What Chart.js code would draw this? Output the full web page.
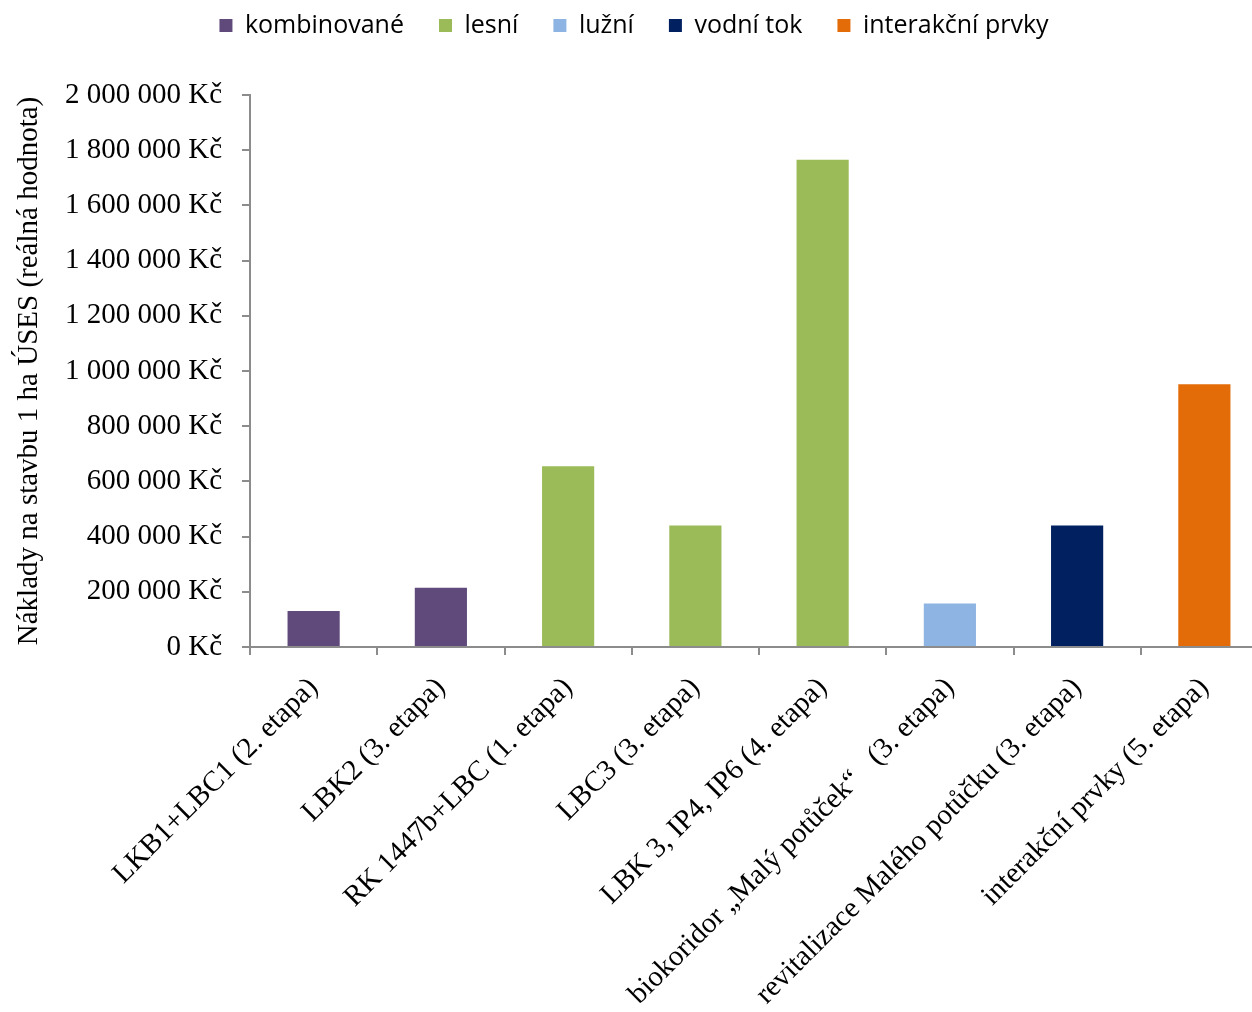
<!DOCTYPE html>
<html>
<head>
<meta charset="utf-8">
<script src="https://cdn.jsdelivr.net/npm/chart.js@4/dist/chart.umd.min.js"></script>
<style>
  html, body { margin: 0; padding: 0; background: #fff; overflow: hidden; }
  #wrap { width: 1270px; height: 1012px; }
</style>
</head>
<body>
<div id="wrap"><canvas id="js_costChart"></canvas></div>
<script>
/*  eslint-disable no-undef */
const categories = [
  'LKB1+LBC1 (2. etapa)',
  'LBK2 (3. etapa)',
  'RK 1447b+LBC (1. etapa)',
  'LBC3 (3. etapa)',
  'LBK 3, IP4, IP6 (4. etapa)',
  'biokoridor \u201eMalý potůček\u201c   (3. etapa)',
  'revitalizace Malého potůčku (3. etapa)',
  'interakční prvky (5. etapa)',
];

const costs = [130000, 215000, 655000, 440000, 1765000, 158000, 440000, 952000];

// which group each bar belongs to (index into groupNames)
const barGroup = [0, 0, 1, 1, 1, 2, 3, 4];

const groupNames = ['kombinované', 'lesní', 'lužní', 'vodní tok', 'interakční prvky'];
const groupColors = ['#604a7b', '#9bbb59', '#8eb4e3', '#002060', '#e36c09'];

const yTicks = [0, 200000, 400000, 600000, 800000, 1000000, 1200000, 1400000, 1600000, 1800000, 2000000];

const axisColor = '#8c8c8c';
const serif = "'Liberation Serif', 'Times New Roman', serif";

const formatKc = (v) => `${String(v).replace(/\B(?=(\d{3})+(?!\d))/g, ' ')} Kč`;

// extra room under the legend
const legendSpacer = {
  id: 'legendSpacer',
  beforeInit(chart) {
    const originalFit = chart.legend.fit;
    chart.legend.fit = function fit() {
      originalFit.bind(chart.legend)();
      this.height += 47;
    };
  },
};

document.addEventListener('DOMContentLoaded', () => {
  const ctx = document.getElementById('js_costChart');

  new Chart(ctx, {
    type: 'bar',
    plugins: [legendSpacer],
    data: {
      labels: categories,
      datasets: [{
        label: 'Náklady',
        data: costs,
        backgroundColor: barGroup.map((g) => groupColors[g]),
        borderWidth: 0,
        categoryPercentage: 1,
        barPercentage: 0.41,
      }],
    },
    options: {
      responsive: true,
      maintainAspectRatio: false,
      devicePixelRatio: 1,
      animation: false,
      layout: { padding: { top: -22, left: 0, right: 2, bottom: 0 } },
      plugins: {
        tooltip: { enabled: false },
        legend: {
          display: true,
          position: 'top',
          onClick: null,
          labels: {
            boxWidth: 13,
            boxHeight: 13,
            padding: 35,
            color: '#222',
            font: { family: "'Open Sans', 'Noto Sans', sans-serif", size: 25 },
            generateLabels: () => groupNames.map((name, i) => ({
              text: name,
              fillStyle: groupColors[i],
              strokeStyle: groupColors[i],
              lineWidth: 0,
              hidden: false,
              index: i,
            })),
          },
        },
      },
      scales: {
        x: {
          offset: true,
          grid: {
            display: true,
            offset: true,
            drawOnChartArea: false,
            drawTicks: true,
            tickLength: 8,
            color: axisColor,
            lineWidth: 2,
          },
          border: { display: true, color: axisColor, width: 2 },
          ticks: {
            autoSkip: false,
            minRotation: 45,
            maxRotation: 45,
            padding: 16,
            color: '#000',
            font: { family: serif, size: 29 },
          },
          afterFit: (scale) => { scale.height = 365; },
        },
        y: {
          min: 0,
          max: 2000000,
          afterBuildTicks: (scale) => { scale.ticks = yTicks.map((v) => ({ value: v })); },
          grid: {
            display: true,
            drawOnChartArea: false,
            drawTicks: true,
            tickLength: 8,
            color: axisColor,
            lineWidth: 2,
          },
          border: { display: true, color: axisColor, width: 2 },
          ticks: {
            padding: 20,
            color: '#000',
            font: { family: serif, size: 29 },
            callback: (v) => formatKc(v),
          },
          title: {
            display: true,
            text: 'Náklady na stavbu 1 ha ÚSES (reálná hodnota)',
            color: '#000',
            font: { family: serif, size: 29 },
            padding: { top: 12, bottom: 0 },
          },
          afterFit: (scale) => { scale.width = 250; },
        },
      },
    },
  });
});
</script>
</body>
</html>
